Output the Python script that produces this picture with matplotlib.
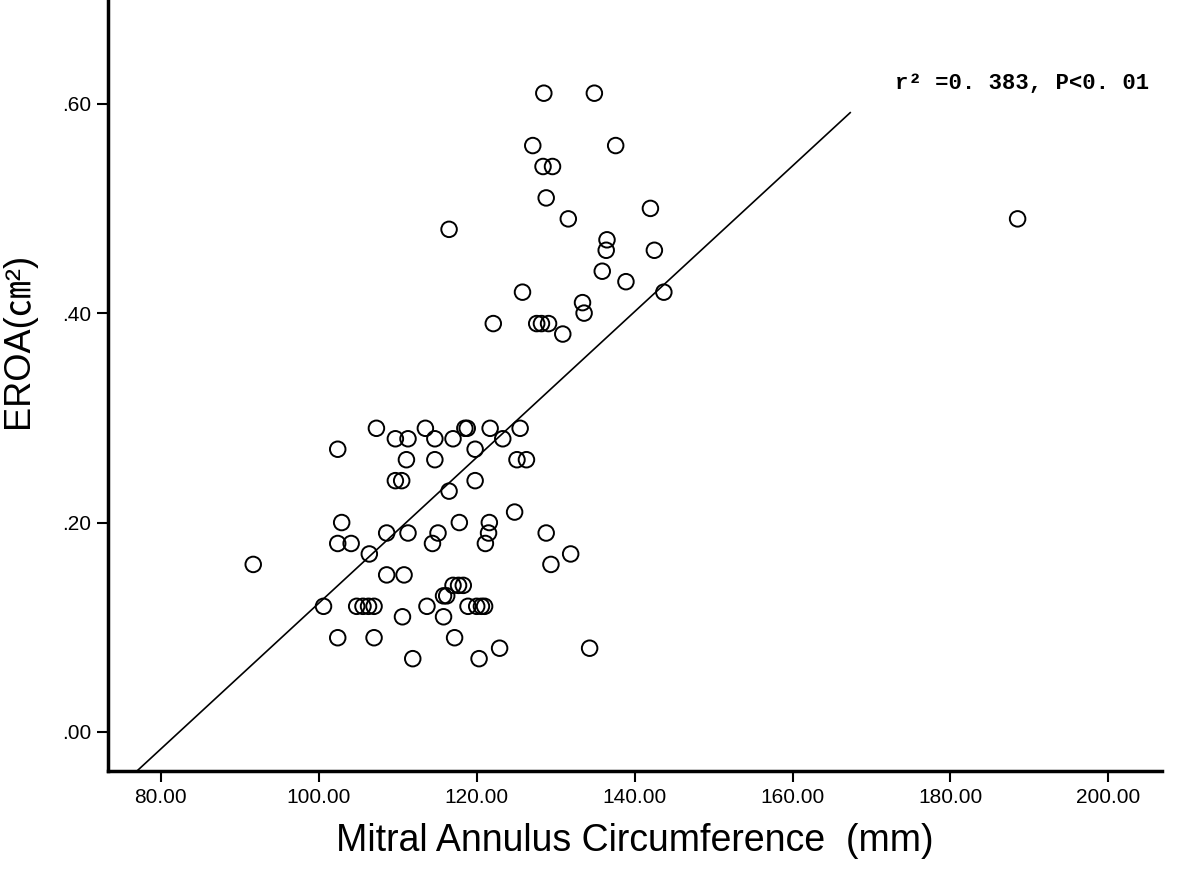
import matplotlib
matplotlib.use("Agg")
import matplotlib.pyplot as plt
import numpy as np

# mitral annulus circumference (mm) vs EROA (cm2)
circ = [91.7, 100.6, 102.4, 102.4, 102.9, 102.4, 104.1, 104.8, 105.6, 106.3,
        107.0, 106.4, 107.0, 107.3, 108.6, 108.6, 109.7, 109.7, 110.5, 110.6,
        110.8, 111.1, 111.3, 111.3, 111.9, 113.5, 113.7, 114.4, 114.7, 114.7,
        115.1, 115.8, 116.2, 115.8, 116.5, 116.5, 117.0, 117.0, 117.7, 118.3,
        117.2, 117.8, 118.5, 118.8, 118.9, 119.8, 119.8, 120.0, 120.6, 121.0,
        120.3, 121.1, 121.5, 121.6, 121.7, 122.1, 122.9, 123.3, 124.8, 125.1,
        126.3, 125.5, 125.8, 127.1, 127.6, 128.2, 129.1, 128.4, 129.6, 128.5,
        128.8, 128.8, 129.4, 130.9, 131.6, 131.9, 133.4, 133.6, 134.3, 134.9,
        135.9, 136.4, 136.5, 137.6, 138.9, 142.0, 142.5, 143.7, 188.5]
eroa = [0.16, 0.12, 0.27, 0.18, 0.20, 0.09, 0.18, 0.12, 0.12, 0.12,
        0.12, 0.17, 0.09, 0.29, 0.19, 0.15, 0.28, 0.24, 0.24, 0.11,
        0.15, 0.26, 0.28, 0.19, 0.07, 0.29, 0.12, 0.18, 0.28, 0.26,
        0.19, 0.13, 0.13, 0.11, 0.23, 0.48, 0.28, 0.14, 0.14, 0.14,
        0.09, 0.20, 0.29, 0.29, 0.12, 0.27, 0.24, 0.12, 0.12, 0.12,
        0.07, 0.18, 0.19, 0.20, 0.29, 0.39, 0.08, 0.28, 0.21, 0.26,
        0.26, 0.29, 0.42, 0.56, 0.39, 0.39, 0.39, 0.54, 0.54, 0.61,
        0.51, 0.19, 0.16, 0.38, 0.49, 0.17, 0.41, 0.40, 0.08, 0.61,
        0.44, 0.46, 0.47, 0.56, 0.43, 0.50, 0.46, 0.42, 0.49]

# fit line as drawn
fit_slope = 0.00696
fit_intercept = -0.573
fit_x_end = 167.3

x_ticks = [80, 100, 120, 140, 160, 180, 200]
y_ticks = [0.0, 0.2, 0.4, 0.6]

fig = plt.figure(figsize=(11.81, 8.73), dpi=100)
ax = fig.add_axes([0.0914, 0.1168, 0.8926, 0.8832])

ax.scatter(circ, eroa, s=125, facecolors="none", edgecolors="black", linewidths=1.4, zorder=3)

lx = np.array([70, fit_x_end])
ax.plot(lx, fit_slope * lx + fit_intercept, color="black", linewidth=1.2, zorder=2)

ax.set_xlim(73.3, 206.8)
ax.set_ylim(-0.0373, 0.699)
ax.set_xticks(x_ticks)
ax.set_xticklabels([f"{v:.2f}" for v in x_ticks])
ax.set_yticks(y_ticks)
ax.set_yticklabels([f"{v:.2f}".lstrip("0") for v in y_ticks])

for side in ["top", "right"]:
    ax.spines[side].set_visible(False)
for side in ["left", "bottom"]:
    ax.spines[side].set_linewidth(2.5)

ax.tick_params(axis="both", direction="out", length=8, width=1.5, labelsize=15, pad=4)
for lab in ax.get_xticklabels() + ax.get_yticklabels():
    lab.set_family("Liberation Sans")

ax.set_xlabel("Mitral Annulus Circumference  (mm)", fontsize=27, family="Liberation Sans", labelpad=12)
ax.set_ylabel("EROA(㎝²)", fontsize=26, family=["Liberation Sans", "Noto Sans CJK SC"])
ax.yaxis.set_label_coords(-0.068, 0.559)

ax.text(0.747, 0.884, "r² =0. 383, P<0. 01", transform=ax.transAxes, fontsize=16,
        family="Liberation Mono", fontweight="bold", ha="left", va="baseline")

fig.savefig("out.png", dpi=100)
